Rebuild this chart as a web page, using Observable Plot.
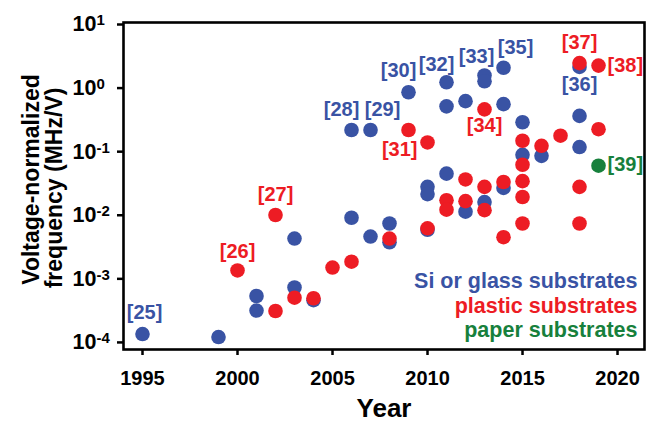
<!DOCTYPE html>
<html>
<head>
<meta charset="utf-8">
<script src="https://cdn.jsdelivr.net/npm/d3@7"></script>
<script src="https://cdn.jsdelivr.net/npm/@observablehq/plot@0.6"></script>
<style>
  body { margin: 0; background: #fff; }
  #chart svg { display: block; }
</style>
</head>
<body>
<div id="chart"></div>
<script>
// Voltage-normalized frequency (MHz/V) of reported circuits, by year and substrate.

// Si or glass substrates
const siYears  = [1995, 1999, 2001, 2001, 2003, 2003, 2004, 2006, 2006, 2007, 2007, 2008, 2008,
                  2009, 2010, 2010, 2010, 2011, 2011, 2011, 2012, 2012, 2013, 2013, 2013,
                  2014, 2014, 2014, 2015, 2015, 2016, 2018, 2018, 2018];
const siValues = [1.26e-4, 1.13e-4, 5.0e-4, 2.95e-4, 4.0e-3, 6.8e-4, 4.3e-4, 0.204, 8.5e-3, 0.204, 4.3e-3, 6.9e-3, 3.5e-3,
                  0.8, 0.026, 0.020, 5.5e-3, 1.15, 0.48, 0.042, 0.58, 0.0106, 1.47, 1.19, 0.015,
                  1.94, 0.52, 0.025, 0.27, 0.083, 0.08, 2.0, 0.34, 0.11];

// plastic substrates
const plasticYears  = [2000, 2002, 2002, 2003, 2004, 2005, 2006, 2008, 2009, 2010, 2010, 2011, 2011,
                       2012, 2012, 2013, 2013, 2013, 2014, 2014, 2015, 2015, 2015, 2015, 2015,
                       2016, 2017, 2018, 2018, 2018, 2019, 2019];
const plasticValues = [1.26e-3, 9.4e-3, 2.9e-4, 4.7e-4, 4.6e-4, 1.4e-3, 1.73e-3, 4.0e-3, 0.204, 0.13, 5.8e-3, 0.016, 0.0114,
                       0.034, 0.0155, 0.43, 0.026, 0.0112, 0.031, 4.2e-3, 0.138, 0.058, 0.032, 0.018, 6.9e-3,
                       0.115, 0.166, 2.3, 0.026, 6.9e-3, 2.1, 0.21];

// paper substrates
const paperYears  = [2019];
const paperValues = [0.056];

// reference numbers attached to points
const refTexts  = ["[25]", "[26]", "[27]", "[28]", "[29]", "[30]", "[31]", "[32]", "[33]", "[34]", "[35]", "[36]", "[37]", "[38]", "[39]"];
const refYears  = [1995, 2000, 2002, 2006, 2007, 2009, 2010, 2011, 2013, 2013, 2014, 2018, 2018, 2019, 2019];
const refValues = [1.26e-4, 1.26e-3, 9.4e-3, 0.204, 0.204, 0.8, 0.13, 1.15, 1.47, 0.43, 1.94, 2.0, 2.3, 2.1, 0.056];
const refSeries = ["si", "plastic", "plastic", "si", "si", "si", "plastic", "si", "si", "plastic", "si", "si", "plastic", "plastic", "paper"];

// axes
const xTicks = [1995, 2000, 2005, 2010, 2015, 2020];
const yTicks = [1e-4, 1e-3, 1e-2, 1e-1, 1, 10];

const seriesNames = ["Si or glass substrates", "plastic substrates", "paper substrates"];
const colors = {si: "#3953a4", plastic: "#ed1c24", paper: "#17803c"};

const rows = (years, values) => years.map((year, i) => ({year, value: values[i]}));
const si = rows(siYears, siValues);
const plastic = rows(plasticYears, plasticValues);
const paper = rows(paperYears, paperValues);
const refs = refTexts.map((ref, i) => ({ref, year: refYears[i], value: refValues[i], series: refSeries[i]}));

// where each reference sits relative to its point: [textAnchor, dx, dy]
const place = {
  "[25]": ["middle", 2, -21], "[26]": ["middle", 0, -19], "[27]": ["middle", 0, -20],
  "[28]": ["middle", -10, -20], "[29]": ["middle", 12, -20], "[30]": ["middle", -10, -22],
  "[31]": ["end", -10, 7], "[32]": ["middle", -10, -18], "[33]": ["middle", -8, -19],
  "[34]": ["middle", 0, 16], "[35]": ["middle", 12, -20], "[36]": ["middle", 0, 18],
  "[37]": ["middle", 0, -20], "[38]": ["start", 9, 0], "[39]": ["start", 9, -1]
};

const R = 7.3;
const font = "'Liberation Sans', Arial, Helvetica, sans-serif";

const plot = Plot.plot({
  width: 646,
  height: 421,
  marginLeft: 123,
  marginRight: 2,
  marginTop: 22,
  marginBottom: 72,
  style: {fontFamily: font, fontWeight: "bold", fontSize: "20px", color: "#000", background: "#fff", overflow: "visible"},
  x: {domain: [1994, 2021.42]},
  y: {type: "log", domain: [7.2e-5, 10]},
  marks: [
    Plot.frame({stroke: "#000", strokeWidth: 2.6}),
    Plot.axisX({ticks: xTicks, tickFormat: d => String(d), tickSize: 6, tickPadding: 15,
                strokeWidth: 2.5, fontSize: 20, label: null}),
    // exponent labels start at a common left edge
    Plot.axisY({ticks: yTicks, tickFormat: d => String(Math.round(Math.log10(d))), tickSize: 6, tickPadding: 45,
                textAnchor: "start", strokeWidth: 2.5, fontSize: 21.5, dy: 2, label: null}),
    Plot.dot(si, {x: "year", y: "value", r: R, fill: colors.si}),
    Plot.dot(plastic, {x: "year", y: "value", r: R, fill: colors.plastic}),
    Plot.dot(paper, {x: "year", y: "value", r: R, fill: colors.paper}),
    ...refs.map(d => Plot.text([d], {
      x: "year", y: "value", text: "ref",
      textAnchor: place[d.ref][0], dx: place[d.ref][1], dy: place[d.ref][2],
      lineAnchor: "middle", fill: colors[d.series], fontSize: 20, ariaLabel: "reference"
    })),
    // series key, lower right inside the frame
    ...seriesNames.map((name, i) => Plot.text([name], {
      frameAnchor: "bottom-right", textAnchor: "end", lineAnchor: "bottom",
      dx: -7, dy: [-62, -37, -13][i], fontSize: 21.5,
      fill: [colors.si, colors.plastic, colors.paper][i]
    })),
    // axis titles
    Plot.text(["Year"], {frameAnchor: "bottom", lineAnchor: "bottom", dy: 67, fontSize: 26, fill: "#000"}),
    Plot.text(["Voltage-normalized"], {frameAnchor: "left", rotate: -90, textAnchor: "middle", lineAnchor: "bottom",
      dx: -85, dy: -6.5, fontSize: 23, fill: "#000", ariaLabel: "ytitle1"}),
    Plot.text(["frequency (MHz/V)"], {frameAnchor: "left", rotate: -90, textAnchor: "middle", lineAnchor: "bottom",
      dx: -62, dy: 2, fontSize: 23, fill: "#000", ariaLabel: "ytitle2"})
  ]
});

document.getElementById("chart").appendChild(plot);

// powers of ten on the y axis: "10" with a raised exponent
plot.querySelectorAll('g[aria-label="y-axis tick label"] text').forEach(t => {
  const e = t.textContent;
  t.textContent = "";
  t.setAttribute("text-anchor", "start");
  const base = document.createElementNS("http://www.w3.org/2000/svg", "tspan");
  base.textContent = "10";
  const sup = document.createElementNS("http://www.w3.org/2000/svg", "tspan");
  sup.textContent = e;
  sup.setAttribute("font-size", "15");
  sup.setAttribute("dy", "-6");
  t.appendChild(base);
  t.appendChild(sup);
});

// the reference numbers and axis title are set a little wider than the font's natural width
plot.querySelectorAll('g[aria-label="reference"] text').forEach(t => {
  const w = t.getComputedTextLength();
  t.setAttribute("textLength", (w * 1.07).toFixed(1));
  t.setAttribute("lengthAdjust", "spacingAndGlyphs");
});
[["ytitle1", 302], ["ytitle2", 281]].forEach(([name, len]) => {
  plot.querySelectorAll(`g[aria-label="${name}"] text`).forEach(t => {
    t.setAttribute("textLength", len);
    t.setAttribute("lengthAdjust", "spacingAndGlyphs");
  });
});
</script>
</body>
</html>
